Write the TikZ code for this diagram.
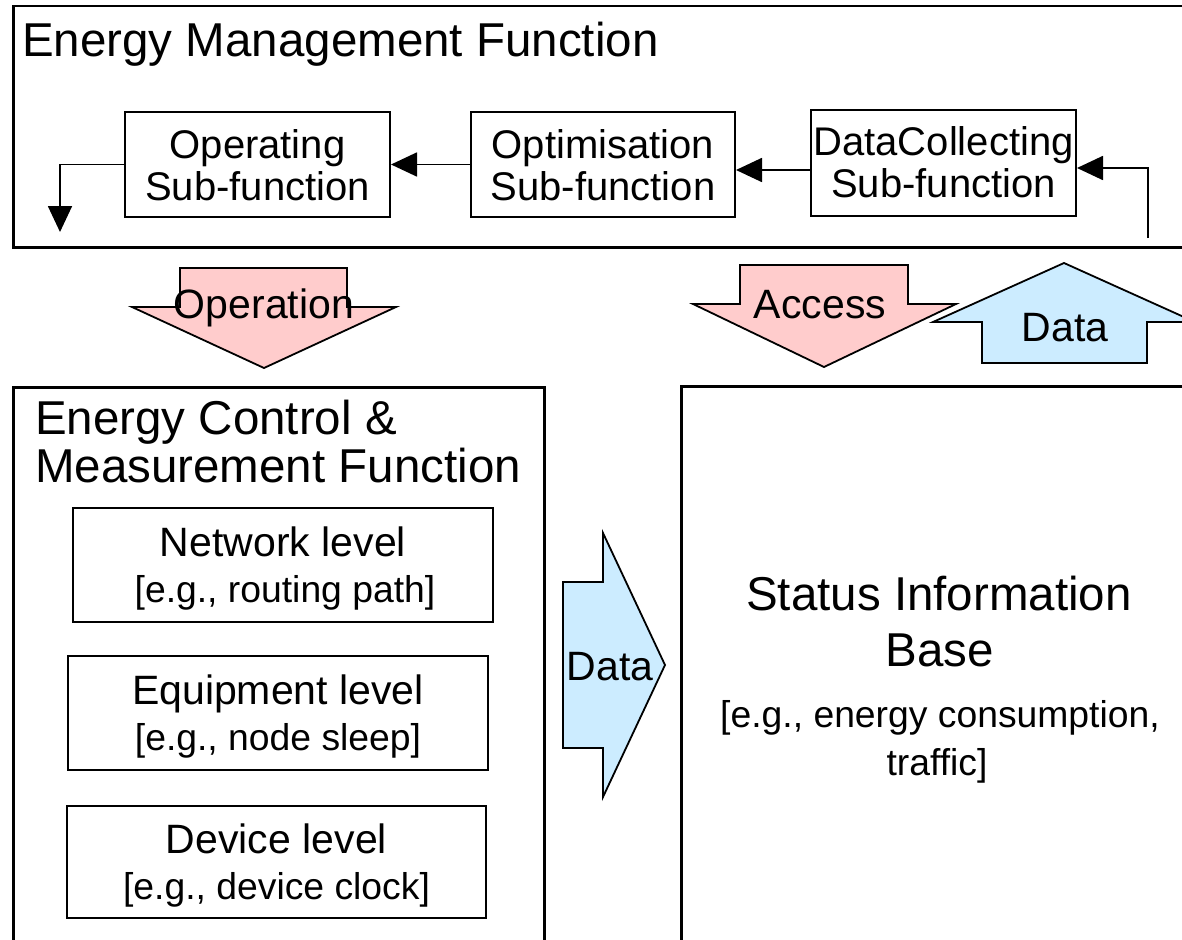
\documentclass[tikz,border=0pt]{standalone}
\usepackage{fontspec}
\setmainfont{Liberation Sans}
\usetikzlibrary{arrows.meta,calc}
\definecolor{pinkf}{HTML}{FFCCCC}
\definecolor{bluef}{HTML}{CCECFF}
\begin{document}
\begin{tikzpicture}[x=1pt,y=-1pt,
  outerbox/.style={draw,line width=2.5pt,inner sep=0pt,anchor=north west},
  subbox/.style={draw,line width=2pt,inner sep=0pt},
  arr/.style={line width=1.8pt,-{Triangle[length=26pt,width=24pt]}},
  blk/.style={draw,line width=1.8pt,line join=miter},
  bigtxt/.style={font=\fontsize{47.5}{50}\selectfont,inner sep=0pt},
  subtxt/.style={font=\fontsize{40}{42}\selectfont,inner sep=0pt,anchor=base},
  medtxt/.style={font=\fontsize{41}{44}\selectfont,inner sep=0pt,anchor=base},
  smltxt/.style={font=\fontsize{37.3}{40}\selectfont,inner sep=0pt,anchor=base}]
\useasboundingbox (0,0) rectangle (1182,939);
\clip (0,0) rectangle (1182,939);
\fill[white] (0,0) rectangle (1182,939);

% outer boxes
\node[outerbox,minimum width=1200pt,minimum height=241pt] (emf) at (12,5) {};
\node[bigtxt,anchor=base west] (emft) at (22,57) {Energy Management Function};
\node[outerbox,minimum width=531pt,minimum height=600pt] (ecm) at (12,386) {};
\node[bigtxt,anchor=base west] (ecmt1) at (35,434) {Energy Control \&};
\node[bigtxt,anchor=base west] (ecmt2) at (35,482) {Measurement Function};
\node[outerbox,minimum width=600pt,minimum height=600pt] (sib) at (680,385) {};

% sub-functions
\node[subbox,minimum width=265pt,minimum height=105pt] (oper) at (257.5,164.5) {};
\node[subtxt] (oper1) at (257.5,158) {Operating};
\node[subtxt] (oper2) at (257.5,200) {Sub-function};
\node[subbox,minimum width=264pt,minimum height=105pt] (optim) at (603,164.5) {};
\node[subtxt] (optim1) at (603,158) {Optimisation};
\node[subtxt] (optim2) at (603,200) {Sub-function};
\node[subbox,minimum width=265pt,minimum height=106pt] (dc) at (943.5,163) {};
\node[subtxt] (dc1) at (943.5,155) {DataCollecting};
\node[subtxt] (dc2) at (943.5,197) {Sub-function};

% connectors in top box
\coordinate (dcin) at (1148,238);
\coordinate (operout) at (60,232);
\draw[arr] (optim.west) -- (oper.east);
\draw[arr] ($(dc.west)+(0,7)$) -- ($(optim.east)+(0,5.5)$);
\draw[arr] (dcin) |- ($(dc.east)+(0,5)$);
\draw[arr] (oper.west) -| (operout);

% block arrows
\draw[blk,fill=pinkf] (180,268) -- (347,268) -- (347,307) -- (396,307) -- (264,368) -- (132,307) -- (180,307) -- cycle;
\node[medtxt] (opl) at (264,318) {Operation};
\draw[blk,fill=pinkf] (740,265) -- (908,265) -- (908,304) -- (956,304) -- (824,367) -- (693,304) -- (740,304) -- cycle;
\node[medtxt] (acl) at (820,318) {Access};
\draw[blk,fill=bluef] (1064,263) -- (1195,322) -- (1147,322) -- (1147,363) -- (982,363) -- (982,322) -- (933,322) -- cycle;
\node[medtxt] (dul) at (1065,341) {Data};
\draw[blk,fill=bluef] (563,582) -- (603,582) -- (603,533) -- (665,665) -- (603,797) -- (603,748) -- (563,748) -- cycle;
\node[medtxt] (drl) at (610,680) {Data};

% level boxes
\node[subbox,minimum width=420pt,minimum height=114pt] (net) at (283,565) {};
\node[medtxt] (net1) at (283,556) {Network level};
\node[smltxt] (net2) at (285,602) {[e.g., routing path]};
\node[subbox,minimum width=420pt,minimum height=114pt] (equ) at (278,713) {};
\node[medtxt] (equ1) at (278,704) {Equipment level};
\node[smltxt] (equ2) at (278,750) {[e.g., node sleep]};
\node[subbox,minimum width=419pt,minimum height=112pt] (dev) at (276.5,862) {};
\node[medtxt] (dev1) at (276.5,853) {Device level};
\node[smltxt] (dev2) at (276.5,899) {[e.g., device clock]};

% status information base text
\node[bigtxt,anchor=base] (sib1) at (939,610) {Status Information};
\node[bigtxt,anchor=base] (sib2) at (940,666) {Base};
\node[smltxt] (sib3) at (940,727) {[e.g., energy consumption,};
\node[smltxt] (sib4) at (937,775) {traffic]};
\end{tikzpicture}
\end{document}
